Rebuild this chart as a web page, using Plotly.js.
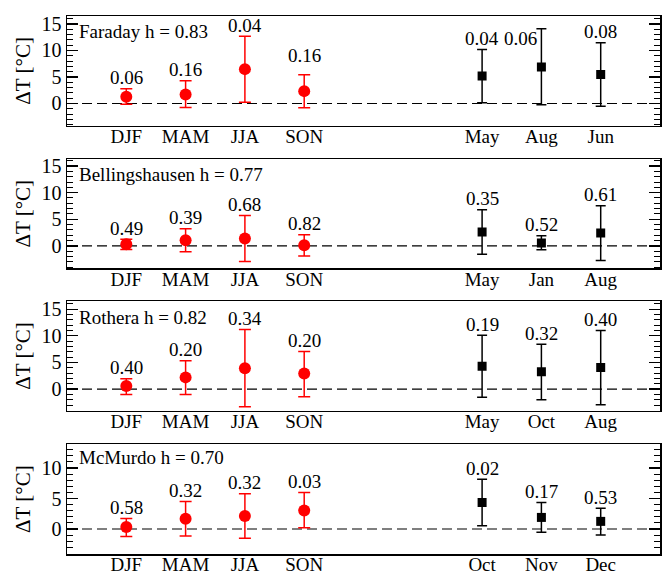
<!DOCTYPE html>
<html>
<head>
<meta charset="utf-8">
<script src="https://cdn.plot.ly/plotly-3.0.1.min.js"></script>
<style>
  html, body { margin: 0; padding: 0; background: #fff; }
  #chart { width: 666px; height: 574px; }
</style>
</head>
<body>
<div id="chart"></div>
<script>
// Temperature change per station: seasonal means (red) and three monthly means (black),
// each with its confidence interval and the p-value written above it.
const stations = ['Faraday', 'Bellingshausen', 'Rothera', 'McMurdo'];
const hValues = ['0.83', '0.77', '0.82', '0.70'];
const seasons = ['DJF', 'MAM', 'JJA', 'SON'];
const months = [
  ['May', 'Aug', 'Jun'],
  ['May', 'Jan', 'Aug'],
  ['May', 'Oct', 'Aug'],
  ['Oct', 'Nov', 'Dec']
];

const seasonMean = [
  [1.26, 1.70, 6.48, 2.33],
  [0.31, 1.06, 1.38, 0.13],
  [0.56, 2.19, 3.90, 2.90],
  [0.33, 1.68, 2.12, 3.04]
];
const seasonUpper = [
  [2.77, 4.28, 12.70, 5.40],
  [1.25, 3.25, 5.70, 2.10],
  [1.94, 5.30, 11.20, 7.06],
  [1.74, 4.50, 5.80, 6.00]
];
const seasonLower = [
  [-0.13, -0.75, 0.25, -0.82],
  [-0.69, -1.10, -2.90, -1.90],
  [-1.00, -1.00, -3.30, -1.44],
  [-1.25, -1.14, -1.52, 0.22]
];
const seasonP = [
  ['0.06', '0.16', '0.04', '0.16'],
  ['0.49', '0.39', '0.68', '0.82'],
  ['0.40', '0.20', '0.34', '0.20'],
  ['0.58', '0.32', '0.32', '0.03']
];

const monthMean = [
  [5.20, 6.90, 5.47],
  [2.60, 0.56, 2.44],
  [4.30, 3.25, 4.06],
  [4.35, 1.90, 1.25]
];
const monthUpper = [
  [10.20, 14.10, 11.45],
  [6.80, 1.90, 7.56],
  [10.10, 8.40, 11.00],
  [8.15, 4.35, 3.42]
];
const monthLower = [
  [0.13, -0.25, -0.50],
  [-1.56, -0.70, -2.75],
  [-1.56, -2.00, -2.94],
  [0.54, -0.54, -0.98]
];
const monthP = [
  ['0.04', '0.06', '0.08'],
  ['0.35', '0.52', '0.61'],
  ['0.19', '0.32', '0.40'],
  ['0.02', '0.17', '0.53']
];

// ---- layout helpers ----
const FONT = 'Liberation Serif, Times New Roman, serif';
const seasonSlot = i => i;          // seasons occupy the first four slots
const monthSlot = j => 6 + j;       // months sit to the right after a gap
const yDomains = [[0.796, 1], [0.531, 0.734], [0.266, 0.470], [0, 0.204]];
const yRanges = [[-4.2, 16.5], [-4.2, 16.3], [-4.1, 16.5], [-4.1, 13.9]];
// per-label nudges (pixels) where a p-value sits off its default spot
const labelNudge = {
  '0-s-3': { dx: 0, dy: 8 },
  '0-m-1': { dx: -21, dy: -21 }
};

const traces = [];
const annotations = [];
const shapes = [];
const layout = {
  width: 666, height: 574,
  margin: { l: 67, r: 6, t: 16, b: 20 },
  paper_bgcolor: '#fff', plot_bgcolor: '#fff',
  showlegend: false,
  font: { family: FONT, color: '#000', size: 19 }
};

stations.forEach((name, k) => {
  const n = k === 0 ? '' : String(k + 1);
  const xa = 'x' + n, ya = 'y' + n;

  const sx = seasons.map((_, i) => seasonSlot(i));
  const mx = months[k].map((_, j) => monthSlot(j));

  traces.push({
    type: 'scatter', mode: 'markers', xaxis: xa, yaxis: ya,
    x: sx, y: seasonMean[k],
    marker: { color: '#ff0000', size: 12, symbol: 'circle' },
    error_y: {
      type: 'data', symmetric: false,
      array: seasonUpper[k].map((u, i) => u - seasonMean[k][i]),
      arrayminus: seasonLower[k].map((l, i) => seasonMean[k][i] - l),
      color: '#ff0000', thickness: 1.5, width: 6
    },
    hoverinfo: 'skip'
  });
  traces.push({
    type: 'scatter', mode: 'markers', xaxis: xa, yaxis: ya,
    x: mx, y: monthMean[k],
    marker: { color: '#000', size: 9, symbol: 'square' },
    error_y: {
      type: 'data', symmetric: false,
      array: monthUpper[k].map((u, j) => u - monthMean[k][j]),
      arrayminus: monthLower[k].map((l, j) => monthMean[k][j] - l),
      color: '#000', thickness: 1.5, width: 5
    },
    hoverinfo: 'skip'
  });

  const axisKeyX = 'xaxis' + n, axisKeyY = 'yaxis' + n;
  layout[axisKeyX] = {
    anchor: ya, domain: [0, 1], range: [-1, 9],
    tickvals: sx.concat(mx), ticktext: seasons.concat(months[k]),
    ticks: '', ticklen: 0, ticklabelstandoff: -7,
    showgrid: false, zeroline: false,
    showline: true, mirror: true, linecolor: '#000', linewidth: 1.5,
    tickfont: { family: FONT, size: 19, color: '#000' }
  };
  layout[axisKeyY] = {
    anchor: xa, domain: yDomains[k], range: yRanges[k],
    dtick: 5, tick0: 0, ticks: 'inside', ticklen: 11, tickwidth: 1.2, tickcolor: '#000',
    minor: { dtick: 1, tick0: 0, ticks: 'inside', ticklen: 6, tickwidth: 1, tickcolor: '#000' },
    showgrid: false, zeroline: false,
    showline: true, mirror: 'ticks', linecolor: '#000', linewidth: 1.5,
    tickfont: { family: FONT, size: 20, color: '#000' },
    title: { text: '\u0394T [\u00b0C]', font: { family: FONT, size: 21, color: '#000' }, standoff: 5 }
  };

  shapes.push({
    type: 'line', xref: xa + ' domain', yref: ya, x0: 0, x1: 1, y0: 0, y1: 0,
    line: { color: '#000', width: 1.2, dash: '10px,5px' }, layer: 'below'
  });

  annotations.push({
    xref: xa + ' domain', yref: ya + ' domain', x: 0.017, y: k === 3 ? 0.878 : 0.855,
    xanchor: 'left', yanchor: 'middle', showarrow: false,
    text: name + ' h = ' + hValues[k],
    font: { family: FONT, size: 19, color: '#000' }
  });

  seasonP[k].forEach((p, i) => {
    const nud = labelNudge[k + '-s-' + i] || { dx: 0, dy: 0 };
    annotations.push({
      xref: xa, yref: ya, x: sx[i], y: seasonUpper[k][i],
      xanchor: 'center', yanchor: 'middle', showarrow: false,
      xshift: nud.dx, yshift: 11 + nud.dy, text: p,
      font: { family: FONT, size: 19, color: '#000' }
    });
  });
  monthP[k].forEach((p, j) => {
    const nud = labelNudge[k + '-m-' + j] || { dx: 0, dy: 0 };
    annotations.push({
      xref: xa, yref: ya, x: mx[j], y: monthUpper[k][j],
      xanchor: 'center', yanchor: 'middle', showarrow: false,
      xshift: nud.dx, yshift: 11 + nud.dy, text: p,
      font: { family: FONT, size: 19, color: '#000' }
    });
  });
});

layout.annotations = annotations;
layout.shapes = shapes;

Plotly.newPlot('chart', traces, layout, { staticPlot: true, displayModeBar: false });
</script>
</body>
</html>
